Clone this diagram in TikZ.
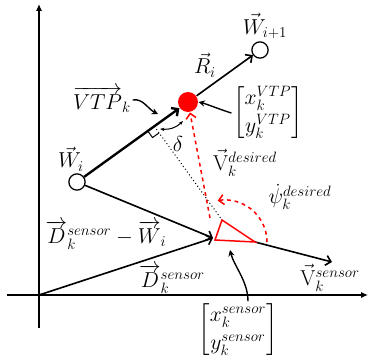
\documentclass[tikz,border=0pt]{standalone}
\usepackage{amsmath}
\usetikzlibrary{arrows.meta, calc}
\definecolor{cred}{HTML}{FF0000}
\tikzset{
  every picture/.style={line width=1pt, font=\fontsize{17.28}{21}\selectfont},
  waypoint/.style={circle, draw=black, fill=white, line width=1pt, minimum size=13pt, inner sep=0pt},
  vtpdot/.style={circle, fill=cred, minimum size=16pt, inner sep=0pt},
  vector/.style={-{Straight Barb[length=4pt, width=8pt]}, line width=1.3pt},
  axis/.style={-{Latex[length=5.5pt, width=5pt]}, line width=1.1pt},
  pointer/.style={-{Stealth[length=5pt, width=5pt]}, line width=1.1pt},
  desired/.style={-{Straight Barb[length=4pt, width=8pt]}, draw=cred, dashed, line width=1.2pt},
  lbl/.style={inner sep=1pt},
}

\begin{document}
\begin{tikzpicture}[x=0.8pt, y=0.8pt]
  \useasboundingbox (0,0) rectangle (369,360);
  % axes
  \coordinate (O) at (39,65);
  \coordinate (ytop) at (39,356);
  \coordinate (ybot) at (39,32);
  \coordinate (xleft) at (7,65);
  \coordinate (xright) at (368,65);
  \draw[axis] (ybot) -- (ytop);
  \draw[axis] (xleft) -- (xright);
  % waypoints and virtual target point
  \node[waypoint] (Wi) at (77,178) {};
  \node[waypoint] (Wnext) at (260,310) {};
  \node[vtpdot] (vtp) at (188,258) {};
  \draw[vector, line width=1.9pt] (Wi) -- (vtp);
  \draw[vector] (vtp) -- (Wnext);
  % sensor
  \coordinate (tritop) at (222,140);
  \coordinate (trileft) at (215,120);
  \coordinate (triright) at (255,118);
  \coordinate (sensor) at (213,122);
  \coordinate (vsens) at (332,98);
  \coordinate (dstart) at (210,142);
  \draw[vector] (O) -- (sensor);
  \draw[vector] (Wi) -- (sensor);
  \draw[vector] (triright) -- (vsens);
  \draw[draw=cred, line width=1.2pt] (tritop) -- (trileft) -- (triright) -- cycle;
  % cross track distance
  \coordinate (foot) at ($(Wi)!(tritop)!(Wnext)$);
  \coordinate (ra1) at ($(foot)!6.5pt!(Wi)$);
  \coordinate (ra2) at ($(foot)!6.5pt!(tritop)$);
  \draw[dotted, line width=0.8pt] (foot) -- (tritop);
  \draw[line width=0.8pt] (ra1) -- ($(ra1)+(ra2)-(foot)$) -- (ra2);
  \coordinate (d1) at (160,231);
  \coordinate (d2) at (183,239);
  \draw[{Stealth[length=3.5pt]}-{Stealth[length=3.5pt]}, line width=0.8pt] (d1) to[bend right=25] (d2);
  % desired heading
  \draw[desired] (dstart) -- (vtp);
  \draw[desired] (267,118) arc[start angle=0, end angle=100, radius=42];
  % labels
  \node[lbl] (lWnext) at (265,334) {$\vec{W}_{i+1}$};
  \node[lbl] (lR) at (205,295) {$\vec{R}_i$};
  \node[lbl] (lVTP) at (102,260) {$\overrightarrow{VTP}_k$};
  \node[lbl] (mVTP) at (268,247) {$\begin{bmatrix} x_k^{VTP} \\[1pt] y_k^{VTP} \end{bmatrix}$};
  \node[lbl] (lWi) at (71,201) {$\vec{W}_i$};
  \node[lbl] (ldelta) at (178,216) {$\delta$};
  \node[lbl] (lVdes) at (245,197) {$\vec{\mathrm{V}}_k^{desired}$};
  \node[lbl] (lpsi) at (300,163) {$\dot{\psi}_k^{desired}$};
  \node[lbl] (lDW) at (106,125) {$\overrightarrow{D}_k^{sensor} - \overrightarrow{W}_i$};
  \node[lbl] (lD) at (172,81) {$\overrightarrow{D}_k^{sensor}$};
  \node[lbl] (lVsens) at (330,82) {$\vec{\mathrm{V}}_k^{sensor}$};
  \node[lbl] (mSens) at (238,30) {$\begin{bmatrix} x_k^{sensor} \\[1pt] y_k^{sensor} \end{bmatrix}$};
  % pointers
  \draw[pointer] (lVTP.east) .. controls +(10,2) and +(-10,5) .. (158,246);
  \draw[pointer] (mVTP.west) .. controls +(-10,3) and +(8,-2) .. (vtp.east);
  \draw[pointer] ([xshift=8pt]mSens.north) .. controls +(0,20) and +(4,-16) .. (230,110);
\end{tikzpicture}
\end{document}
